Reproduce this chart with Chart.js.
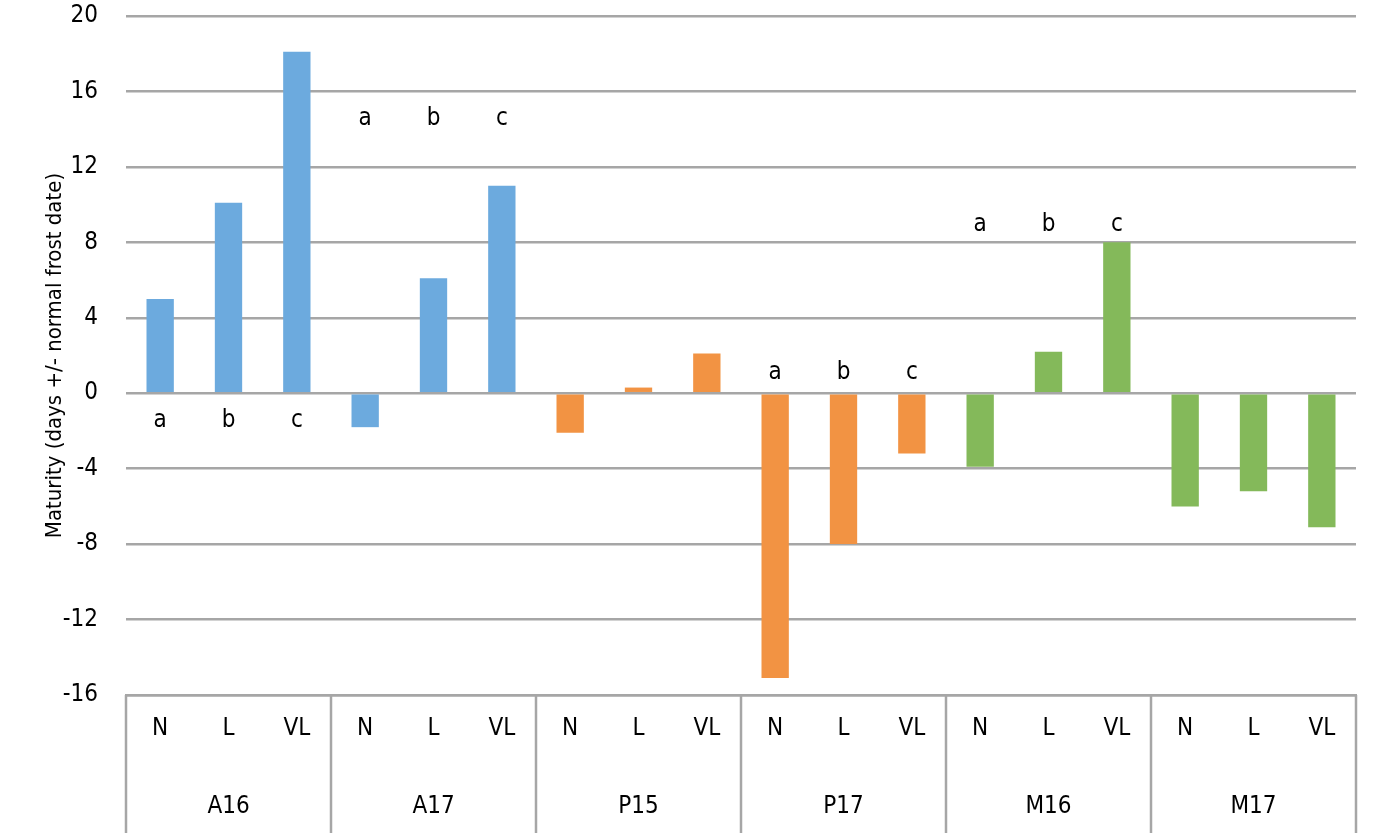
<!DOCTYPE html>
<html>
<head>
<meta charset="utf-8">
<script src="https://cdn.jsdelivr.net/npm/chart.js@4/dist/chart.umd.min.js"></script>
<style>
html,body{margin:0;padding:0;background:#fff;}
#wrap{width:1387px;height:833px;position:relative;}
</style>
</head>
<body>
<div id="wrap"><canvas id="c"></canvas></div>
<script>
// ---- data ----
const groups = ['A16', 'A17', 'P15', 'P17', 'M16', 'M17'];
const levels = ['N', 'L', 'VL'];
const values = [
  5.0, 10.1, 18.1,
  -1.8, 6.1, 11.0,
  -2.1, 0.3, 2.1,
  -15.1, -8.0, -3.2,
  -3.9, 2.2, 8.0,
  -6.0, -5.2, -7.1
];
const groupColors = ['#6CAADE', '#6CAADE', '#F29343', '#F29343', '#84B95A', '#84B95A'];
const annotLetters = ['a', 'b', 'c'];
const annotGroups = [0, 1, 3, 4];
const annotY = [-1.8, 14.2, 0.75, 8.6];
const yMin = -16, yMax = 20, yStep = 4;

// ---- build ----
const FONT = "'Liberation Sans Narrow', 'DejaVu Sans Condensed', 'Arial Narrow', sans-serif";
const labels = [];
const colors = [];
groups.forEach((g, gi) => levels.forEach(l => { labels.push(l); colors.push(groupColors[gi]); }));
const GRID = '#A6A6A6';

const tablePlugin = {
  id: 'tableLines',
  afterDraw(chart) {
    const ctx = chart.ctx, xs = chart.scales.x, area = chart.chartArea;
    ctx.save();
    ctx.strokeStyle = GRID;
    ctx.lineWidth = 2.5;
    const n = groups.length;
    for (let i = 0; i <= n; i++) {
      const x = xs.left + i * xs.width / n;
      ctx.beginPath();
      ctx.moveTo(x, area.bottom);
      ctx.lineTo(x, chart.height);
      ctx.stroke();
    }
    ctx.restore();
  }
};

const annotPlugin = {
  id: 'letters',
  afterDatasetsDraw(chart) {
    const ctx = chart.ctx, xs = chart.scales.x, ys = chart.scales.y;
    ctx.save();
    ctx.fillStyle = '#000';
    ctx.font = '24px ' + FONT;
    ctx.textAlign = 'center';
    ctx.textBaseline = 'alphabetic';
    annotGroups.forEach((g, i) => {
      annotLetters.forEach((t, k) => {
        ctx.fillText(t, xs.getPixelForValue(g * levels.length + k), ys.getPixelForValue(annotY[i]));
      });
    });
    ctx.restore();
  }
};

new Chart(document.getElementById('c'), {
  type: 'bar',
  data: {
    labels: labels,
    datasets: [{
      data: values,
      backgroundColor: colors,
      borderWidth: 0,
      barPercentage: 0.4,
      categoryPercentage: 1.0
    }]
  },
  options: {
    responsive: true,
    maintainAspectRatio: false,
    animation: false,
    devicePixelRatio: 1,
    layout: { padding: { top: 16, right: 31, left: 0, bottom: 0 } },
    plugins: { legend: { display: false }, tooltip: { enabled: false } },
    scales: {
      x: {
        type: 'category',
        position: 'bottom',
        offset: true,
        grid: { display: false },
        border: { display: true, color: GRID, width: 2.5 },
        ticks: { color: '#000', font: { family: FONT, size: 24 }, padding: 11, maxRotation: 0, autoSkip: false },
        afterFit(s) { s.height = 60; }
      },
      x2: {
        type: 'category',
        position: 'bottom',
        labels: groups,
        offset: true,
        grid: { display: false },
        border: { display: false },
        ticks: { color: '#000', font: { family: FONT, size: 24 }, padding: 29, maxRotation: 0, autoSkip: false },
        afterFit(s) { s.height = 78; }
      },
      y: {
        min: yMin,
        max: yMax,
        ticks: { stepSize: yStep, color: '#000', font: { family: FONT, size: 24 }, padding: 0 },
        grid: { color: GRID, lineWidth: 2.5, drawTicks: true, tickLength: 28, tickColor: 'rgba(0,0,0,0)' },
        border: { display: false },
        title: {
          display: true,
          text: 'Maturity (days +/- normal frost date)',
          color: '#000',
          font: { family: FONT, size: 22 },
          padding: { top: 42, bottom: 0 }
        },
        afterFit(s) { s.width = 126; }
      }
    }
  },
  plugins: [tablePlugin, annotPlugin]
});
</script>
</body>
</html>
